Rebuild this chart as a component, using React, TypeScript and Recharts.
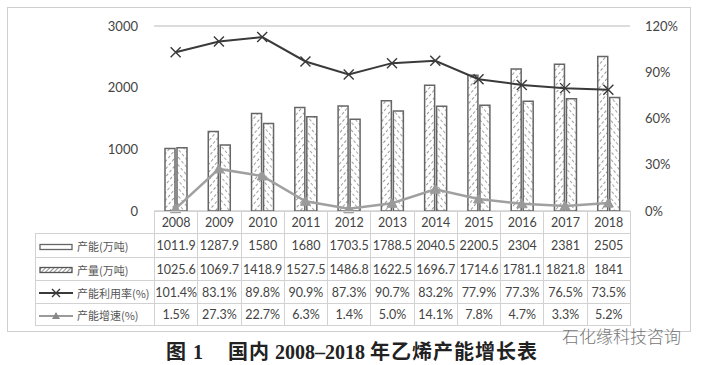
import React from "react";
import { ComposedChart, Bar, Line, XAxis, YAxis, CartesianGrid } from "recharts";

const years = ["2008", "2009", "2010", "2011", "2012", "2013", "2014", "2015", "2016", "2017", "2018"];
const capacity = [1011.9, 1287.9, 1580, 1680, 1703.5, 1788.5, 2040.5, 2200.5, 2304, 2381, 2505];
const output = [1025.6, 1069.7, 1418.9, 1527.5, 1486.8, 1622.5, 1696.7, 1714.6, 1781.1, 1821.8, 1841];
// utilisation line as drawn in the picture (fraction)
const utilLine = [1.03, 1.1, 1.128, 0.97, 0.885, 0.959, 0.974, 0.855, 0.818, 0.797, 0.786];
const growth = [0.015, 0.273, 0.227, 0.063, 0.014, 0.05, 0.141, 0.078, 0.047, 0.033, 0.052];

const capLabels = ["1011.9", "1287.9", "1580", "1680", "1703.5", "1788.5", "2040.5", "2200.5", "2304", "2381", "2505"];
const outLabels = ["1025.6", "1069.7", "1418.9", "1527.5", "1486.8", "1622.5", "1696.7", "1714.6", "1781.1", "1821.8", "1841"];
const utilLabels = ["101.4%", "83.1%", "89.8%", "90.9%", "87.3%", "90.7%", "83.2%", "77.9%", "77.3%", "76.5%", "73.5%"];
const growthLabels = ["1.5%", "27.3%", "22.7%", "6.3%", "1.4%", "5.0%", "14.1%", "7.8%", "4.7%", "3.3%", "5.2%"];

const leftTicks = [0, 1000, 2000, 3000];
const rightTicks = [0, 0.3, 0.6, 0.9, 1.2];

const seriesNames = ["产能(万吨)", "产量(万吨)", "产能利用率(%)", "产能增速(%)"];

const data = years.map((y, i) => ({
  year: y,
  capacity: capacity[i],
  output: output[i],
  util: utilLine[i],
  growth: growth[i],
}));

const numFont = "Lato, 'Open Sans', sans-serif";
const cjkFont = "'Noto Sans CJK SC', sans-serif";

const XDot = (props: any) => {
  const { cx, cy, index } = props;
  if (cx == null || cy == null) return <g key={"x" + index} />;
  const s = 5;
  return (
    <path
      key={"x" + index}
      d={`M${cx - s},${cy - s}L${cx + s},${cy + s}M${cx - s},${cy + s}L${cx + s},${cy - s}`}
      stroke="#3a3a3a"
      strokeWidth={1.4}
      fill="none"
    />
  );
};

const TriDot = (props: any) => {
  const { cx, cy, index } = props;
  if (cx == null || cy == null) return <g key={"t" + index} />;
  const s = 5;
  return (
    <path
      key={"t" + index}
      d={`M${cx},${cy - s}L${cx + s},${cy + s * 0.8}L${cx - s},${cy + s * 0.8}Z`}
      fill="#9a9a9a"
      stroke="#9a9a9a"
    />
  );
};

const rowHeights = [22, 24, 23, 23, 22];
const colW = (630 - 154) / 11;

const LegendIcon = ({ kind }: { kind: number }) => {
  return (
    <svg width={38} height={12} style={{ verticalAlign: "middle", marginRight: 3 }}>
      <defs>
        <pattern id="legHatch" width="3" height="3" patternUnits="userSpaceOnUse" patternTransform="rotate(45)">
          <rect width="3" height="3" fill="#fff" />
          <line x1="0" y1="0" x2="0" y2="3" stroke="#555" strokeWidth="1.3" />
        </pattern>
      </defs>
      {kind === 0 && <rect x={4} y={3.5} width={32} height={5} fill="#fff" stroke="#666" strokeWidth={1.3} />}
      {kind === 1 && <rect x={4} y={3.5} width={32} height={5} fill="url(#legHatch)" stroke="#555" strokeWidth={1.3} />}
      {kind === 2 && (
        <g>
          <line x1={3} y1={6} x2={37} y2={6} stroke="#3a3a3a" strokeWidth={1.8} />
          <path d="M16,2L24,10M16,10L24,2" stroke="#3a3a3a" strokeWidth={1.4} />
        </g>
      )}
      {kind === 3 && (
        <g>
          <line x1={3} y1={6} x2={37} y2={6} stroke="#9a9a9a" strokeWidth={1.8} />
          <path d="M20,2L24,9L16,9Z" fill="#888" />
        </g>
      )}
    </svg>
  );
};

export default function App() {
  const rows = [capLabels, outLabels, utilLabels, growthLabels];
  const cellBorder = "1px solid #d2d2d2";
  return (
    <div style={{ position: "absolute", left: 0, top: 0, width: 704, height: 365, background: "#fff", overflow: "hidden" }}>
      <div
        style={{
          position: "absolute",
          left: 7,
          top: 7,
          width: 684,
          height: 325,
          border: "1.5px solid #cfcfcf",
          boxSizing: "border-box",
        }}
      />
      <div style={{ position: "absolute", left: 0, top: 0 }}>
        <ComposedChart
          width={704}
          height={365}
          data={data}
          margin={{ top: 26, right: 0, left: 0, bottom: 154 }}
          barGap={2}
          barCategoryGap={10}
        >
          <defs>
            <pattern id="hatchA" width="5" height="5" patternUnits="userSpaceOnUse" patternTransform="rotate(40)">
              <rect width="5" height="5" fill="#fff" />
              <line x1="0" y1="0" x2="0" y2="3" stroke="#555" strokeWidth="1.2" />
            </pattern>
            <pattern id="hatchB" width="5" height="5" patternUnits="userSpaceOnUse" patternTransform="rotate(-40)">
              <rect width="5" height="5" fill="#fff" />
              <line x1="0" y1="0" x2="0" y2="3" stroke="#666" strokeWidth="1.2" />
            </pattern>
          </defs>
          <CartesianGrid vertical={false} stroke="#d0d0d0" strokeWidth={1.3} />
          <XAxis dataKey="year" hide />
          <YAxis
            yAxisId="left"
            orientation="left"
            width={154}
            domain={[0, 3000]}
            ticks={leftTicks}
            axisLine={false}
            tickLine={false}
            tickSize={0}
            tickMargin={16}
            tick={{ fontSize: 13, fill: "#444", fontFamily: numFont }}
          />
          <YAxis
            yAxisId="right"
            orientation="right"
            width={74}
            domain={[0, 1.2]}
            ticks={rightTicks}
            axisLine={false}
            tickLine={false}
            tickSize={0}
            tickMargin={15}
            tickFormatter={(v: number) => `${Math.round(v * 100)}%`}
            tick={{ fontSize: 13, fill: "#444", fontFamily: numFont }}
          />
          <Bar
            yAxisId="left"
            dataKey="capacity"
            name={seriesNames[0]}
            fill="url(#hatchA)"
            stroke="#666"
            strokeWidth={1.5}
            barSize={10}
            isAnimationActive={false}
          />
          <Bar
            yAxisId="left"
            dataKey="output"
            name={seriesNames[1]}
            fill="url(#hatchB)"
            stroke="#666"
            strokeWidth={1.5}
            barSize={10}
            isAnimationActive={false}
          />
          <Line
            yAxisId="right"
            dataKey="util"
            name={seriesNames[2]}
            stroke="#3a3a3a"
            strokeWidth={2}
            dot={XDot}
            isAnimationActive={false}
          />
          <Line
            yAxisId="right"
            dataKey="growth"
            name={seriesNames[3]}
            stroke="#a0a0a0"
            strokeWidth={2.5}
            dot={TriDot}
            isAnimationActive={false}
          />
        </ComposedChart>
      </div>
      {/* data table */}
      <table
        style={{
          position: "absolute",
          left: 35,
          top: 211,
          borderCollapse: "collapse",
          tableLayout: "fixed",
          width: 595,
          fontFamily: numFont,
          fontSize: 12.5,
          color: "#444",
        }}
      >
        <colgroup>
          <col style={{ width: 119 }} />
          {years.map((y) => (
            <col key={y} style={{ width: colW }} />
          ))}
        </colgroup>
        <tbody>
          <tr style={{ height: rowHeights[0] }}>
            <td style={{ border: "none", padding: 0 }} />
            {years.map((y) => (
              <td key={y} style={{ border: cellBorder, textAlign: "center", padding: 0 }}>
                {y}
              </td>
            ))}
          </tr>
          {rows.map((r, ri) => (
            <tr key={ri} style={{ height: rowHeights[ri + 1] }}>
              <td
                style={{
                  border: cellBorder,
                  padding: 0,
                  whiteSpace: "nowrap",
                  fontFamily: cjkFont,
                  fontSize: 11,
                  color: "#555",
                  overflow: "hidden",
                }}
              >
                <LegendIcon kind={ri} />
                <span style={{ verticalAlign: "middle" }}>{seriesNames[ri]}</span>
              </td>
              {r.map((v, ci) => (
                <td key={ci} style={{ border: cellBorder, textAlign: "center", padding: 0, whiteSpace: "nowrap" }}>
                  {v}
                </td>
              ))}
            </tr>
          ))}
        </tbody>
      </table>
      {/* watermark */}
      <div
        style={{
          position: "absolute",
          left: 562,
          top: 327,
          fontFamily: cjkFont,
          fontSize: 17,
          fontWeight: 300,
          color: "#777",
          whiteSpace: "nowrap",
          lineHeight: "18px",
        }}
      >
        石化缘科技咨询
      </div>
      {/* title */}
      <div
        style={{
          position: "absolute",
          left: 0,
          width: 704,
          top: 340,
          textAlign: "center",
          fontFamily: "'Liberation Serif', 'Noto Sans CJK SC', serif",
          fontWeight: "bold",
          fontSize: 20,
          lineHeight: "22px",
          color: "#222",
          whiteSpace: "pre",
        }}
      >
        <span style={{ fontFamily: cjkFont, letterSpacing: 2 }}>图</span> 1     <span style={{ fontFamily: cjkFont, letterSpacing: 1 }}>国内</span> 2008–2018 <span style={{ fontFamily: cjkFont, letterSpacing: 1 }}>年乙烯产能增长表</span>
      </div>
    </div>
  );
}
